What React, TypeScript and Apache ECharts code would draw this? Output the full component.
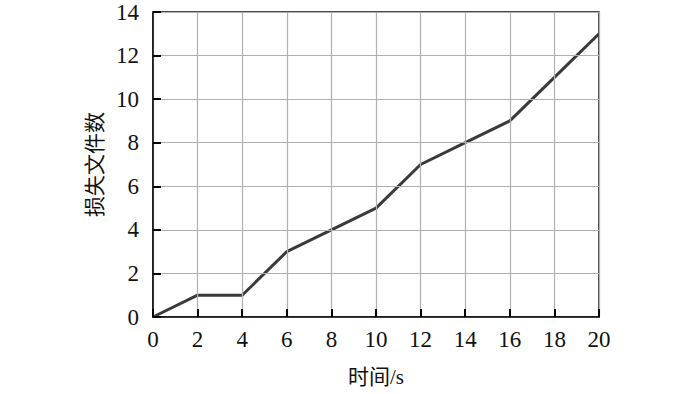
import React, { useEffect, useRef } from "react";
import * as echarts from "echarts";

const xValues = [0, 2, 4, 6, 8, 10, 12, 14, 16, 18, 20];
const lostFiles = [0, 1, 1, 3, 4, 5, 7, 8, 9, 11, 13];
const xName = "时间/s";
const yName = "损失文件数";

export default function App() {
  const ref = useRef<HTMLDivElement>(null);
  useEffect(() => {
    if (!ref.current) return;
    const chart = echarts.init(ref.current, null, { renderer: "svg" });
    const font = "'Liberation Serif', 'Noto Sans CJK SC', serif";
    chart.setOption({
      animation: false,
      grid: {
        left: 153,
        right: 101,
        top: 12,
        bottom: 77,
        show: true,
        borderColor: "#111",
        borderWidth: 1.5,
        backgroundColor: "transparent",
      },
      xAxis: {
        type: "value",
        min: 0,
        max: 20,
        interval: 2,
        name: xName,
        nameLocation: "middle",
        nameGap: 49,
        nameTextStyle: { fontFamily: font, fontSize: 21, color: "#111" },
        axisLine: { show: true, lineStyle: { color: "#111", width: 1.5 } },
        axisTick: { show: true, inside: true, length: 8, lineStyle: { color: "#000", width: 2 } },
        axisLabel: { fontFamily: font, fontSize: 23, color: "#111", margin: 11 },
        splitLine: { show: true, lineStyle: { color: "#b0b0b0", width: 1.2 } },
        z: 5,
      },
      yAxis: {
        type: "value",
        min: 0,
        max: 14,
        interval: 2,
        name: yName,
        nameLocation: "middle",
        nameGap: 47,
        nameRotate: 90,
        nameTextStyle: { fontFamily: font, fontSize: 21, color: "#111" },
        axisLine: { show: true, lineStyle: { color: "#111", width: 1.5 } },
        axisTick: { show: true, inside: true, length: 8, lineStyle: { color: "#000", width: 2 } },
        axisLabel: { fontFamily: font, fontSize: 23, color: "#111", margin: 14 },
        splitLine: { show: true, lineStyle: { color: "#b0b0b0", width: 1.2 } },
        z: 5,
      },
      series: [
        {
          type: "line",
          data: xValues.map((x, i) => [x, lostFiles[i]]),
          symbol: "none",
          lineStyle: { color: "#3a3a3a", width: 3 },
          z: 3,
        },
      ],
    });
    return () => chart.dispose();
  }, []);
  return <div ref={ref} style={{ width: 700, height: 394, position: "absolute", left: 0, top: 0 }} />;
}
